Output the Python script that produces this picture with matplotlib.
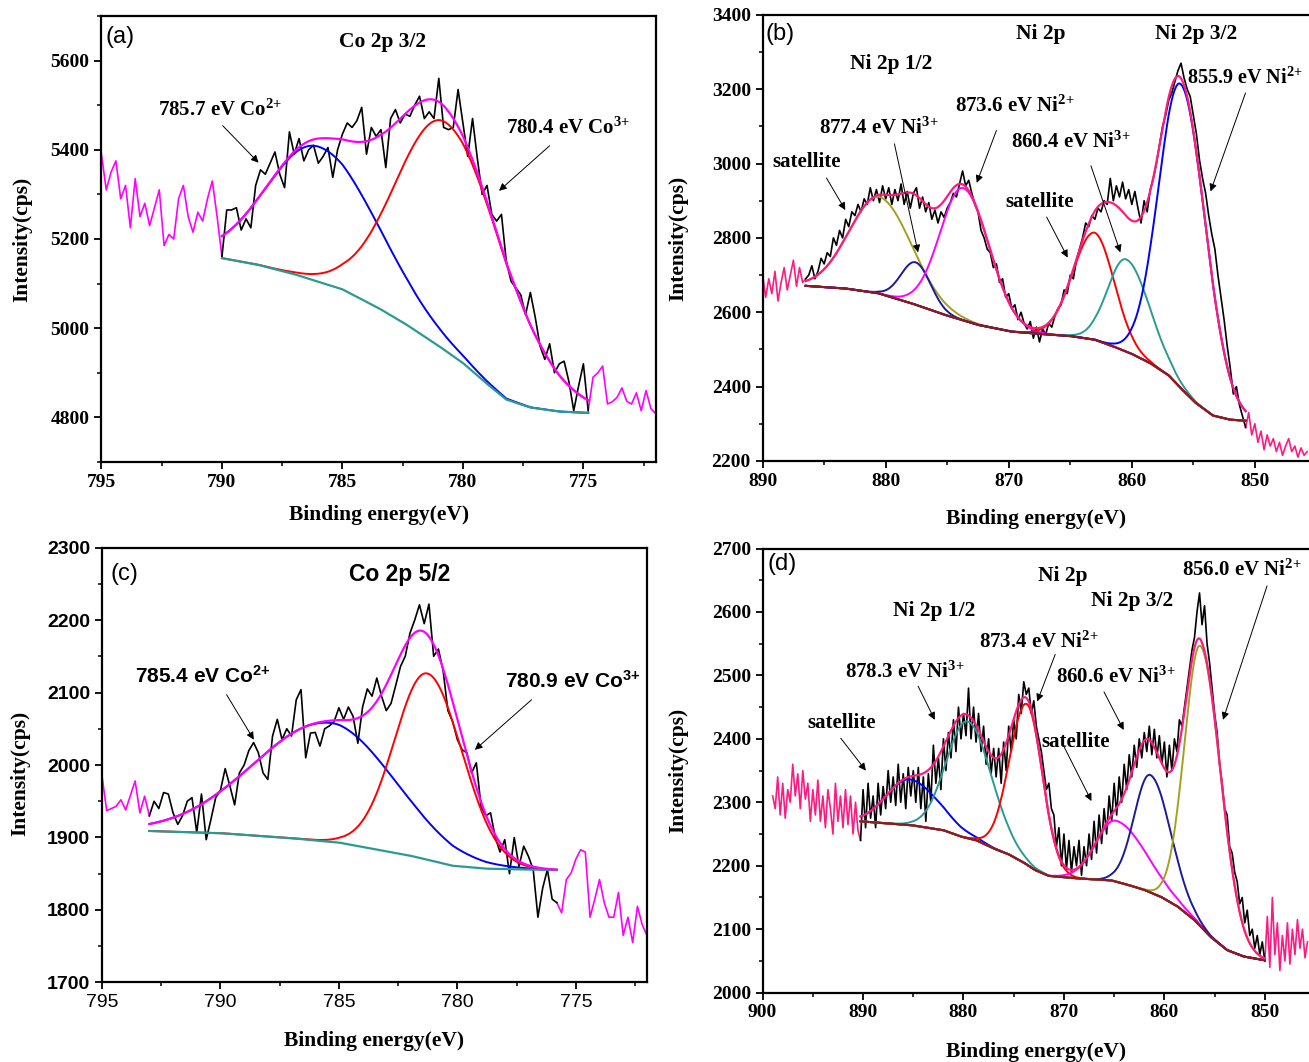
import numpy as np
import matplotlib
matplotlib.use("Agg")
import matplotlib.pyplot as plt
from matplotlib.ticker import MultipleLocator

SERIF = ["Liberation Serif", "DejaVu Serif"]
SANS = ["Liberation Sans", "DejaVu Sans"]

plt.rcParams.update(
    {
        "font.family": SERIF,
        "font.weight": "bold",
        "axes.labelweight": "bold",
        "axes.linewidth": 1.6,
        "mathtext.fontset": "custom",
        "mathtext.rm": "Liberation Serif:bold",
        "mathtext.sf": "Liberation Sans:bold",
        "mathtext.default": "rm",
        "xtick.direction": "out",
        "ytick.direction": "out",
        "xtick.major.size": 5,
        "ytick.major.size": 5,
        "xtick.minor.size": 3,
        "ytick.minor.size": 3,
        "xtick.major.width": 1.3,
        "ytick.major.width": 1.3,
        "xtick.minor.width": 1.1,
        "ytick.minor.width": 1.1,
        "xtick.labelsize": 14,
        "ytick.labelsize": 14,
    }
)

C_TEAL = "#2b9a94"
C_MAG = "#ff00ff"
C_PINK = "#ff1a80"
C_BROWN = "#8e1b1b"
C_OLIVE = "#a3a022"
C_NAVY = "#1a1a9a"
C_BLUE = "#0000ff"
C_RED = "#ff0000"

# ---------------- (a) Co 2p 3/2 ----------------
A_START, A_STEP = 795.0, 0.2
A_RAW = [
    5390, 5310, 5350, 5375, 5290, 5320, 5225, 5335, 5250, 5280,
    5230, 5270, 5310, 5185, 5210, 5200, 5290, 5320, 5250, 5215,
    5260, 5240, 5290, 5330, 5250, 5160, 5265, 5265, 5270, 5220,
    5245, 5225, 5320, 5355, 5345, 5370, 5395, 5345, 5315, 5440,
    5390, 5425, 5375, 5400, 5410, 5370, 5385, 5405, 5338, 5400,
    5435, 5460, 5450, 5465, 5495, 5390, 5450, 5430, 5445, 5360,
    5470, 5490, 5460, 5480, 5475, 5500, 5520, 5470, 5485, 5470,
    5560, 5450, 5445, 5450, 5535, 5460, 5385, 5470, 5380, 5300,
    5320, 5255, 5240, 5255, 5150, 5105, 5090, 5075, 5030, 5080,
    5025, 4960, 4930, 4965, 4900, 4920, 4926, 4880, 4815, 4870,
    4920, 4815, 4890, 4900, 4915, 4830, 4835, 4845, 4866, 4836,
    4830, 4855, 4815, 4860, 4820, 4808,
]
A_FIT = (790.0, 774.8)
A_BG_E = [790.0, 788.5, 787.0, 785.0, 783.5, 782.4, 781.0, 780.0, 779.0, 778.2, 777.2, 776.0, 774.8]
A_BG_I = [5157, 5142, 5121, 5087, 5045, 5010, 4960, 4922, 4875, 4840, 4822, 4813, 4810]
A_CENTER = [786.0, 780.7]
A_HEIGHT = [303, 512]
A_SIG_HI = [2.1, 2.05]
A_SIG_LO = [2.5, 2.45]

# ---------------- (b) Ni 2p ----------------
B_START, B_STEP = 890.0, 0.25
B_RAW = [
    2700, 2640, 2690, 2650, 2710, 2630, 2680, 2720, 2660, 2700,
    2740, 2670, 2720, 2680, 2690, 2700, 2725, 2690, 2710, 2745,
    2730, 2760, 2750, 2800, 2780, 2820, 2800, 2850, 2830, 2870,
    2860, 2890, 2870, 2905, 2890, 2935, 2900, 2930, 2895, 2940,
    2905, 2935, 2890, 2930, 2900, 2945, 2890, 2925, 2880, 2920,
    2935, 2880, 2910, 2870, 2895, 2850, 2875, 2840, 2870, 2855,
    2880, 2895, 2920, 2910, 2945, 2980, 2940, 2955, 2920, 2890,
    2870, 2820, 2800, 2770, 2760, 2720, 2730, 2680, 2690, 2640,
    2650, 2610, 2620, 2580, 2600, 2570, 2555, 2575, 2530, 2560,
    2520, 2555, 2540, 2570, 2560, 2590, 2610, 2620, 2660, 2650,
    2700, 2690, 2740, 2770, 2800, 2840, 2830, 2860, 2850, 2880,
    2870, 2900, 2890, 2960, 2900, 2940, 2910, 2950, 2905, 2930,
    2890, 2925, 2880, 2840, 2900, 2870, 2930, 2960, 3000, 3050,
    3100, 3130, 3170, 3190, 3220, 3250, 3270, 3230, 3200, 3180,
    3130, 3080, 3010, 2960, 2920, 2860, 2810, 2770, 2700, 2640,
    2580, 2510, 2450, 2380, 2400, 2350, 2320, 2290, 2330, 2270,
    2300, 2250, 2280, 2230, 2270, 2240, 2260, 2225, 2250, 2215,
    2240, 2260, 2225, 2240, 2210, 2235, 2215, 2225,
]
B_FIT = (886.5, 850.75)
B_BG_E = [886.5, 883.3, 880.6, 877.9, 875.2, 872.5, 869.8, 868.0, 865.0, 863.0,
          861.5, 860.0, 858.5, 857.0, 856.0, 854.8, 853.4, 852.0, 850.75]
B_BG_I = [2671, 2664, 2651, 2624, 2593, 2566, 2548, 2543, 2536, 2526,
          2508, 2488, 2463, 2430, 2395, 2356, 2322, 2311, 2308]
B_CENTER = [880.5, 877.55, 873.7, 863.03, 860.45, 856.0]
B_HEIGHT = [260, 114, 356, 288, 248, 818]
B_SIG_HI = [2.45, 1.2, 1.89, 1.75, 1.5, 1.8]
B_SIG_LO = [2.6, 1.2, 2.12, 1.6, 1.9, 2.0]

# ---------------- (c) Co 2p 5/2 ----------------
C_START, C_STEP = 795.0, 0.2
C_RAW = [
    1985, 1937, 1940, 1943, 1952, 1938, 1958, 1978, 1934, 1957,
    1930, 1950, 1940, 1962, 1960, 1934, 1918, 1930, 1950, 1955,
    1907, 1960, 1897, 1925, 1955, 1965, 1995, 1971, 1945, 1989,
    2000, 2020, 2031, 2017, 1989, 1980, 2040, 2063, 2035, 2050,
    2040, 2090, 2104, 2010, 2044, 2045, 2026, 2050, 2054, 2060,
    2079, 2063, 2080, 2067, 2030, 2080, 2105, 2095, 2120, 2095,
    2075, 2085, 2110, 2136, 2150, 2182, 2200, 2221, 2195, 2222,
    2150, 2160, 2130, 2075, 2060, 2035, 2021, 2017, 1989, 2003,
    1943, 1930, 1934, 1900, 1880, 1897, 1850, 1900, 1860, 1888,
    1874, 1856, 1790, 1830, 1856, 1815, 1810, 1796, 1842, 1851,
    1870, 1883, 1880, 1790, 1815, 1842, 1810, 1790, 1790, 1824,
    1765, 1790, 1755, 1805, 1780, 1765,
]
C_FIT = (793.0, 775.8)
C_BG_E = [793.0, 790.0, 787.0, 785.0, 783.5, 782.0, 780.2, 778.8, 775.8]
C_BG_I = [1909, 1906, 1899, 1893, 1884, 1875, 1861, 1857, 1855]
C_CENTER = [785.38, 781.27]
C_HEIGHT = [164, 257]
C_SIG_HI = [3.2, 1.38]
C_SIG_LO = [2.75, 1.49]

# ---------------- (d) Ni 2p ----------------
D_START, D_STEP = 899.0, 0.25
D_RAW = [
    2310, 2290, 2340, 2280, 2330, 2275, 2320, 2300, 2360, 2310,
    2345, 2290, 2350, 2305, 2330, 2270, 2320, 2280, 2335, 2270,
    2310, 2260, 2320, 2290, 2250, 2330, 2270, 2310, 2260, 2320,
    2265, 2310, 2250, 2300, 2255,
    2240, 2320, 2260, 2330, 2275, 2310, 2260, 2330, 2280, 2325,
    2290, 2350, 2300, 2340, 2295, 2360, 2300, 2345, 2290, 2355,
    2310, 2350, 2300, 2355, 2290, 2340, 2270, 2345, 2300, 2390,
    2330, 2370, 2320, 2400, 2350, 2410, 2370, 2430, 2380, 2450,
    2400, 2440, 2405, 2480, 2400, 2450, 2395, 2440, 2380, 2420,
    2360, 2400, 2345, 2385, 2340, 2385, 2330, 2395, 2350, 2420,
    2380, 2430, 2400, 2470, 2440, 2490, 2470, 2480, 2440, 2460,
    2420, 2400, 2380, 2350, 2320, 2330, 2290, 2280, 2230, 2260,
    2200, 2250, 2195, 2240, 2190, 2230, 2200, 2240, 2185, 2230,
    2200, 2250, 2210, 2270, 2220, 2280, 2235, 2290, 2250, 2310,
    2270, 2330, 2280, 2340, 2300, 2360, 2320, 2375, 2340, 2390,
    2355, 2400, 2370, 2410, 2380, 2420, 2375, 2415, 2370, 2405,
    2360, 2395, 2340, 2390, 2350, 2400, 2380, 2430, 2420, 2450,
    2480, 2510, 2540, 2560, 2600, 2630, 2580, 2610, 2550, 2520,
    2480, 2440, 2410, 2360, 2330, 2290, 2280, 2230, 2220, 2190,
    2175, 2140, 2150, 2110, 2130, 2090, 2100, 2070, 2090, 2060,
    2080, 2050,
    2120, 2040, 2150, 2060, 2110, 2035, 2090, 2050,
    2110, 2045, 2100, 2060, 2115, 2070, 2100, 2055, 2080,
]
D_FIT = (890.25, 850.0)
D_BG_E = [890.25, 885.2, 882.0, 880.26, 878.7, 876.97, 875.5, 874.0, 872.84, 871.5,
          868.6, 865.29, 863.64, 862.0, 860.34, 858.7, 857.04, 855.4, 853.74, 852.1, 850.0]
D_BG_I = [2270, 2264, 2256, 2246, 2240, 2227, 2218, 2205, 2193, 2184,
          2180, 2177, 2170, 2162, 2151, 2136, 2115, 2088, 2067, 2057, 2051]
D_CENTER = [885.38, 879.6, 873.67, 864.8, 861.4, 856.38]
D_HEIGHT = [72, 184, 253, 96, 185, 442]
D_SIG_HI = [2.3, 2.1, 1.73, 2.0, 1.6, 1.6]
D_SIG_LO = [2.9, 2.4, 1.55, 3.0, 2.0, 2.0]


def peak(e, center, height, sig_hi, sig_lo):
    sig = np.where(e >= center, sig_hi, sig_lo)
    return height * np.exp(-0.5 * ((e - center) / sig) ** 2)


def draw_spectrum(ax, start, step, raw, fit, bg_e, bg_i, centers, heights, sig_hi, sig_lo,
                  colors, out_color, env_color, bg_color):
    raw = np.asarray(raw, dtype=float)
    e = start - step * np.arange(len(raw))
    hi, lo = fit
    tol = 1e-6
    left = e >= hi - tol
    right = e <= lo + tol
    inside = (e <= hi + tol) & (e >= lo - tol)
    ax.plot(e[left], raw[left], color=out_color, lw=1.2, zorder=2)
    ax.plot(e[right], raw[right], color=out_color, lw=1.2, zorder=2)
    ax.plot(e[inside], raw[inside], color="black", lw=1.2, zorder=2)

    grid = np.linspace(hi, lo, 600)
    bg = np.interp(grid, np.asarray(bg_e)[::-1], np.asarray(bg_i)[::-1])
    total = bg.copy()
    for c, h, sh, sl, col in zip(centers, heights, sig_hi, sig_lo, colors):
        comp = peak(grid, c, h, sh, sl)
        total += comp
        ax.plot(grid, bg + comp, color=col, lw=1.4, zorder=4)
    ax.plot(grid, bg, color=bg_color, lw=1.6, zorder=5)
    ax.plot(grid, total, color=env_color, lw=1.6, zorder=6)


def style_axes(ax, xlim, ylim, xmaj, xmin, ymaj, ymin, hide_right=False):
    ax.set_xlim(*xlim)
    ax.set_ylim(*ylim)
    ax.xaxis.set_major_locator(MultipleLocator(xmaj))
    ax.xaxis.set_minor_locator(MultipleLocator(xmin))
    ax.yaxis.set_major_locator(MultipleLocator(ymaj))
    ax.yaxis.set_minor_locator(MultipleLocator(ymin))
    ax.tick_params(which="both", top=False, right=False)
    if hide_right:
        ax.spines["right"].set_visible(False)


def labels(ax, xlab_y, ylab_x, ylab_y=0.5):
    ax.set_xlabel("Binding energy(eV)", fontsize=15.5, va="center")
    ax.set_ylabel("Intensity(cps)", fontsize=15.5, va="center")
    ax.xaxis.set_label_coords(0.5, xlab_y)
    ax.yaxis.set_label_coords(ylab_x, ylab_y)


def note(ax, text, x, y, family=SERIF, size=15, **kw):
    ax.text(x, y, text, fontsize=size, family=family, fontweight="bold",
            va="center", ha=kw.pop("ha", "left"), zorder=8, **kw)


def arrow(ax, start, end):
    ax.annotate("", xy=end, xytext=start, zorder=8,
                arrowprops=dict(arrowstyle="-|>", color="black", lw=0.7,
                                mutation_scale=11, shrinkA=0, shrinkB=0))


def panel_letter(ax, text, x, y):
    ax.text(x, y, text, transform=ax.transAxes, family=SANS, fontsize=17,
            fontweight="normal", va="center")


fig = plt.figure(figsize=(13.09, 10.62), dpi=100)
ax_a = fig.add_axes([0.0775, 0.565, 0.4234, 0.42])
ax_b = fig.add_axes([0.5826, 0.566, 0.4174, 0.42])
ax_c = fig.add_axes([0.0779, 0.0749, 0.4163, 0.4095])
ax_d = fig.add_axes([0.5826, 0.0653, 0.4174, 0.4182])

# (a)
draw_spectrum(ax_a, A_START, A_STEP, A_RAW, A_FIT, A_BG_E, A_BG_I, A_CENTER, A_HEIGHT,
              A_SIG_HI, A_SIG_LO, [C_BLUE, C_RED], C_MAG, C_MAG, C_TEAL)
style_axes(ax_a, (795, 772), (4700, 5700), 5, 2.5, 200, 100)
labels(ax_a, -0.119, -0.143)
panel_letter(ax_a, "(a)", 0.007, 0.952)
ax_a.text(0.508, 0.942, "Co 2p 3/2", transform=ax_a.transAxes, fontsize=15.5,
          fontweight="bold", ha="center", va="center")
note(ax_a, "785.7 eV Co$^{2{+}}$", 792.67, 5488)
note(ax_a, "780.4 eV Co$^{3{+}}$", 778.2, 5449)
arrow(ax_a, (789.97, 5454), (788.48, 5371))
arrow(ax_a, (776.4, 5409), (778.5, 5308))

# (b)
draw_spectrum(ax_b, B_START, B_STEP, B_RAW, B_FIT, B_BG_E, B_BG_I, B_CENTER, B_HEIGHT,
              B_SIG_HI, B_SIG_LO, [C_OLIVE, C_NAVY, C_MAG, C_RED, C_TEAL, C_BLUE],
              C_PINK, C_PINK, C_BROWN)
style_axes(ax_b, (890, 845.6), (2200, 3400), 10, 5, 200, 100, hide_right=True)
labels(ax_b, -0.13, -0.155)
panel_letter(ax_b, "(b)", 0.006, 0.958)
note(ax_b, "Ni 2p", 867.4, 3349, size=15.5, ha="center")
note(ax_b, "Ni 2p 3/2", 854.8, 3349, size=15.5, ha="center")
note(ax_b, "Ni 2p 1/2", 879.54, 3269, size=15.5, ha="center")
note(ax_b, "877.4 eV Ni$^{3{+}}$", 885.45, 3095)
note(ax_b, "873.6 eV Ni$^{2{+}}$", 874.4, 3153)
note(ax_b, "860.4 eV Ni$^{3{+}}$", 869.84, 3058)
note(ax_b, "855.9 eV Ni$^{2{+}}$", 855.55, 3229, size=14.5)
note(ax_b, "satellite", 889.2, 3004)
note(ax_b, "satellite", 870.3, 2897)
arrow(ax_b, (884.81, 2961), (883.28, 2875))
arrow(ax_b, (879.29, 3053), (877.37, 2761))
arrow(ax_b, (871.0, 3089), (872.6, 2948))
arrow(ax_b, (866.92, 2856), (865.21, 2747))
arrow(ax_b, (863.32, 2994), (860.93, 2761))
arrow(ax_b, (850.76, 3190), (853.6, 2925))

# (c)
draw_spectrum(ax_c, C_START, C_STEP, C_RAW, C_FIT, C_BG_E, C_BG_I, C_CENTER, C_HEIGHT,
              C_SIG_HI, C_SIG_LO, [C_BLUE, C_RED], C_MAG, C_MAG, C_TEAL)
style_axes(ax_c, (795, 772), (1700, 2300), 5, 2.5, 100, 50)
labels(ax_c, -0.134, -0.15, 0.48)
for lbl in ax_c.get_yticklabels():
    lbl.set_fontfamily(SANS)
    lbl.set_fontweight("bold")
for lbl in ax_c.get_xticklabels():
    lbl.set_fontfamily(SANS)
    lbl.set_fontweight("normal")
panel_letter(ax_c, "(c)", 0.016, 0.939)
ax_c.text(0.547, 0.939, "Co 2p 5/2", transform=ax_c.transAxes, family=SANS, fontsize=16.5,
          fontweight="bold", ha="center", va="center")
note(ax_c, "785.4 eV Co$^{\\mathsf{2{+}}}$", 793.6, 2122, family=SANS)
note(ax_c, "780.9 eV Co$^{\\mathsf{3{+}}}$", 778.0, 2115, family=SANS)
arrow(ax_c, (789.74, 2097), (788.59, 2035))
arrow(ax_c, (776.87, 2090), (779.26, 2021))

# (d)
draw_spectrum(ax_d, D_START, D_STEP, D_RAW, D_FIT, D_BG_E, D_BG_I, D_CENTER, D_HEIGHT,
              D_SIG_HI, D_SIG_LO, [C_BLUE, C_TEAL, C_RED, C_MAG, C_NAVY, C_OLIVE],
              C_PINK, C_PINK, C_BROWN)
style_axes(ax_d, (900, 845.6), (2000, 2700), 10, 5, 100, 50, hide_right=True)
labels(ax_d, -0.134, -0.155)
panel_letter(ax_d, "(d)", 0.009, 0.966)
note(ax_d, "Ni 2p", 870.07, 2657, size=15.5, ha="center")
note(ax_d, "Ni 2p 3/2", 863.24, 2617, size=15.5, ha="center")
note(ax_d, "Ni 2p 1/2", 882.97, 2601, size=15.5, ha="center")
note(ax_d, "856.0 eV Ni$^{2{+}}$", 858.23, 2666)
note(ax_d, "873.4 eV Ni$^{2{+}}$", 878.48, 2553)
note(ax_d, "878.3 eV Ni$^{3{+}}$", 891.8, 2505)
note(ax_d, "860.6 eV Ni$^{3{+}}$", 870.8, 2497)
note(ax_d, "satellite", 895.55, 2425)
note(ax_d, "satellite", 872.25, 2395)
arrow(ax_d, (892.22, 2401), (889.72, 2350))
arrow(ax_d, (884.52, 2483), (882.86, 2430))
arrow(ax_d, (870.87, 2533), (872.66, 2459))
arrow(ax_d, (869.97, 2387), (867.26, 2302))
arrow(ax_d, (866.01, 2474), (864.05, 2414))
arrow(ax_d, (849.78, 2641), (854.16, 2430))

fig.savefig("out.png", dpi=100)
